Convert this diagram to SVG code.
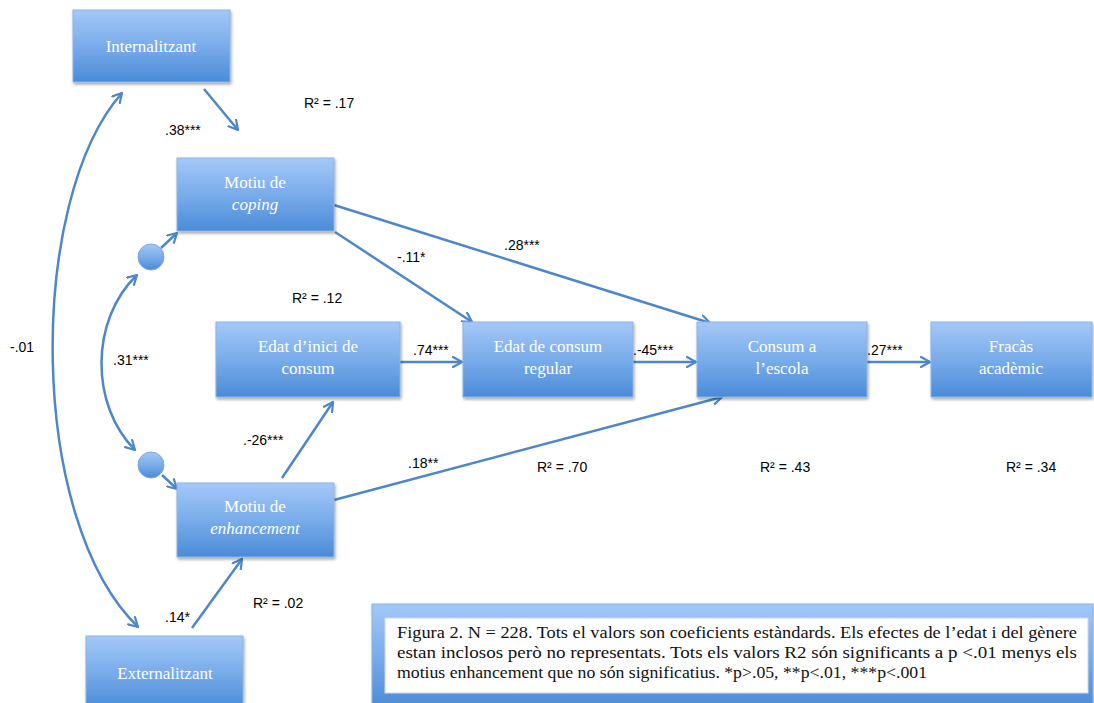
<svg xmlns="http://www.w3.org/2000/svg" width="1094" height="703" viewBox="0 0 1094 703">
<defs>
<linearGradient id="boxg" x1="0" y1="0" x2="0" y2="1">
<stop offset="0" stop-color="#a4c8f8"/>
<stop offset="0.5" stop-color="#79acea"/>
<stop offset="1" stop-color="#4a8bd8"/>
</linearGradient>
<filter id="sh" x="-10%" y="-10%" width="125%" height="130%">
<feDropShadow dx="1" dy="2" stdDeviation="1.5" flood-color="#000" flood-opacity="0.35"/>
</filter>
<marker id="ah" viewBox="0 0 12 12" refX="10" refY="6" markerWidth="12" markerHeight="12" markerUnits="userSpaceOnUse" orient="auto-start-reverse">
<path d="M1,1 L10,6 L1,11" fill="none" stroke="#4d87c9" stroke-width="2.2" stroke-linecap="round" stroke-linejoin="round"/>
</marker>
</defs>
<style>
.box{fill:url(#boxg);stroke:#8ab3e6;stroke-width:1;filter:url(#sh)}
.nt{font-family:"Liberation Serif","DejaVu Serif",serif;font-size:17px;fill:#fff;text-anchor:middle}
.it{font-style:italic}
.lb{font-family:"Liberation Sans",Arial,sans-serif;font-size:14px;fill:#000}
.cn{fill:none;stroke:#4d87c9;stroke-width:2.5}
.ar{marker-end:url(#ah)}
.cap{font-family:"Liberation Serif","DejaVu Serif",serif;font-size:16.5px;fill:#111}
</style>
<rect width="1094" height="703" fill="#fff"/>

<g id="connectors">
<path class="cn ar" d="M204,89 L238,130"/>
<path class="cn" d="M122,93 C27,200 27,520 138,627" marker-start="url(#ah)" marker-end="url(#ah)"/>
<path class="cn" d="M137,275 C90,320 90,405 135,450" marker-start="url(#ah)" marker-end="url(#ah)"/>
<path class="cn ar" d="M161,248 L177,233"/>
<path class="cn ar" d="M162,475 L177,489"/>
<path class="cn ar" d="M335,232 L472,322"/>
<path class="cn ar" d="M334,205 L710,323"/>
<path class="cn ar" d="M400,362 L462,362"/>
<path class="cn ar" d="M633,362 L696,362"/>
<path class="cn ar" d="M867,362 L930,362"/>
<path class="cn ar" d="M282,478 L333,402"/>
<path class="cn ar" d="M334,500 L722,397"/>
<path class="cn ar" d="M192,628 L242,559"/>
</g>

<g id="circle-top"><circle cx="151" cy="257" r="13" fill="url(#boxg)" stroke="#7aa9e0" stroke-width="1"/></g>
<g id="circle-bottom"><circle cx="151" cy="465" r="13" fill="url(#boxg)" stroke="#7aa9e0" stroke-width="1"/></g>

<g id="internalitzant"><rect class="box" x="73" y="10" width="157" height="72"/><text class="nt" x="151" y="52">Internalitzant</text></g>
<g id="coping"><rect class="box" x="177" y="158" width="157" height="73"/><text class="nt" x="255" y="188">Motiu de</text><text class="nt it" x="255" y="210">coping</text></g>
<g id="edat-inici"><rect class="box" x="216" y="322" width="184" height="75"/><text class="nt" x="308" y="352">Edat d’inici de</text><text class="nt" x="308" y="374">consum</text></g>
<g id="edat-regular"><rect class="box" x="463" y="322" width="170" height="75"/><text class="nt" x="548" y="352">Edat de consum</text><text class="nt" x="548" y="374">regular</text></g>
<g id="consum-escola"><rect class="box" x="697" y="322" width="170" height="75"/><text class="nt" x="782" y="352">Consum a</text><text class="nt" x="782" y="374">l’escola</text></g>
<g id="fracas"><rect class="box" x="931" y="322" width="161" height="75"/><text class="nt" x="1011" y="352">Fracàs</text><text class="nt" x="1011" y="374">acadèmic</text></g>
<g id="enhancement"><rect class="box" x="177" y="483" width="157" height="74"/><text class="nt" x="255" y="512">Motiu de</text><text class="nt it" x="255" y="534">enhancement</text></g>
<g id="externalitzant"><rect class="box" x="86" y="636" width="157" height="72"/><text class="nt" x="165" y="679">Externalitzant</text></g>

<g id="labels">
<text class="lb" x="304" y="108">R² = .17</text>
<text class="lb" x="165" y="135">.38***</text>
<text class="lb" x="397" y="262">-.11*</text>
<text class="lb" x="504" y="250">.28***</text>
<text class="lb" x="292" y="303">R² = .12</text>
<text class="lb" x="113" y="365">.31***</text>
<text class="lb" x="10" y="352">-.01</text>
<text class="lb" x="413" y="355">.74***</text>
<text class="lb" x="633" y="355">.-45***</text>
<text class="lb" x="867" y="355">.27***</text>
<text class="lb" x="243" y="445">.-26***</text>
<text class="lb" x="408" y="468">.18**</text>
<text class="lb" x="537" y="472">R² = .70</text>
<text class="lb" x="760" y="472">R² = .43</text>
<text class="lb" x="1006" y="472">R² = .34</text>
<text class="lb" x="253" y="608">R² = .02</text>
<text class="lb" x="165" y="622">.14*</text>
</g>

<g id="caption">
<rect class="box" x="372" y="604" width="721" height="104"/>
<rect x="385" y="618" width="703" height="75" fill="#fff" stroke="#d0d8e4" stroke-width="1"/>
<text class="cap" x="397" y="638" textLength="680" lengthAdjust="spacingAndGlyphs">Figura 2. N = 228. Tots el valors son coeficients estàndards.  Els efectes de l’edat i del gènere</text>
<text class="cap" x="397" y="658" textLength="680" lengthAdjust="spacingAndGlyphs">estan inclosos però no representats. Tots els valors R2 són significants a p &lt;.01 menys els</text>
<text class="cap" x="397" y="678" textLength="530" lengthAdjust="spacingAndGlyphs">motius enhancement que no són significatius. *p&gt;.05, **p&lt;.01, ***p&lt;.001</text>
</g>
</svg>
